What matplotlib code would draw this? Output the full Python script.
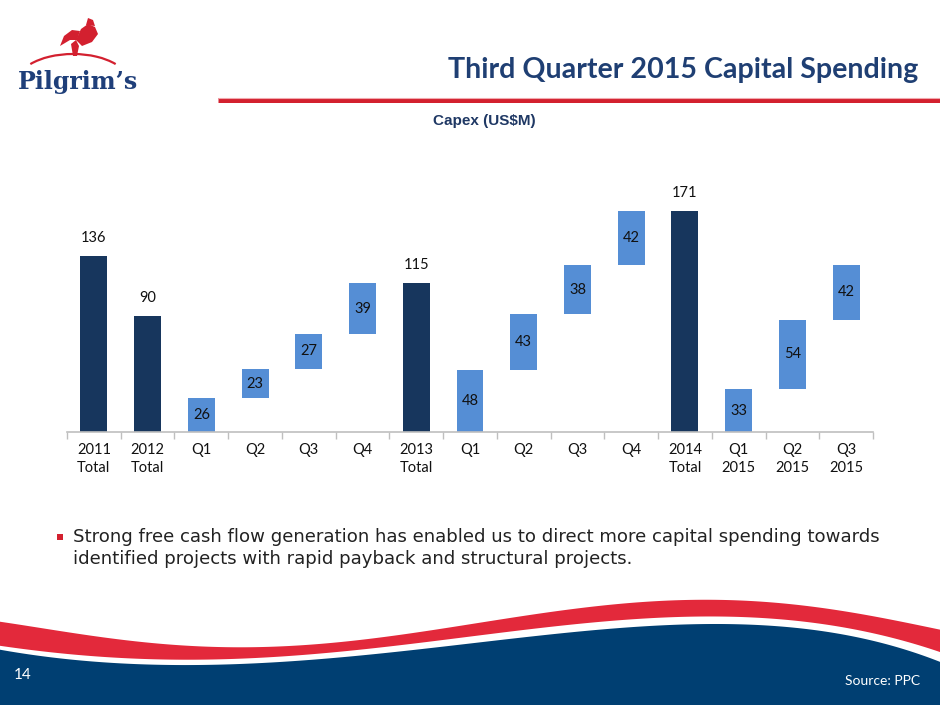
import numpy as np
import matplotlib
matplotlib.use("Agg")
import matplotlib.pyplot as plt
from matplotlib.patches import Polygon, Arc, Rectangle

# chart data
categories = ["2011\nTotal", "2012\nTotal", "Q1", "Q2", "Q3", "Q4", "2013\nTotal",
              "Q1", "Q2", "Q3", "Q4", "2014\nTotal", "Q1\n2015", "Q2\n2015", "Q3\n2015"]
values = [136, 90, 26, 23, 27, 39, 115, 48, 43, 38, 42, 171, 33, 54, 42]
is_total = [True, True, False, False, False, False, True,
            False, False, False, False, True, False, False, False]

title = "Third Quarter 2015 Capital Spending"
subtitle = "Capex (US$M)"
bullet_lines = ["Strong free cash flow generation has enabled us to direct more capital spending towards",
                "identified projects with rapid payback and structural projects."]

NAVY_BAR = "#17365d"
LIGHT_BAR = "#558ed5"
TITLE_BLUE = "#1f3f73"
RED = "#e3293b"
FOOT_NAVY = "#003f72"

W, H = 940, 705
fig = plt.figure(figsize=(W / 100, H / 100), dpi=100)

# background decoration layer in pixel coordinates
bg = fig.add_axes([0, 0, 1, 1], zorder=0)
bg.set_xlim(0, W)
bg.set_ylim(H, 0)
bg.axis("off")


def smooth(xs, ys, n=400):
    xs = np.asarray(xs, float) / W
    coef = np.polyfit(xs, ys, 5)
    xx = np.linspace(0, 1, n)
    return xx * W, np.polyval(coef, xx)


# footer waves (rough outline points)
red_top_x = [0, 100, 200, 300, 400, 470, 570, 670, 770, 870, 940]
red_top_y = [622, 636, 647, 646, 635, 623, 609, 602, 602, 615, 630]
red_bot_x = [0, 100, 200, 300, 470, 570, 670, 770, 870, 940]
red_bot_y = [646, 656, 660, 656, 635, 625, 619, 617, 633, 652]
navy_x = [0, 100, 200, 300, 470, 570, 670, 770, 870, 940]
navy_y = [650, 661, 666, 661, 642, 633, 626, 625, 640, 662]

xr, yr_top = smooth(red_top_x, red_top_y)
_, yr_bot = smooth(red_bot_x, red_bot_y)
xn, yn = smooth(navy_x, navy_y)
bg.fill_between(xr, yr_top, yr_bot, color=RED, lw=0)
bg.fill_between(xn, yn, H, color=FOOT_NAVY, lw=0)
bg.text(14, 675, "14", color="white", fontsize=11, family="Lato", va="center")
bg.text(920, 681, "Source: PPC", color="white", fontsize=10, family="Lato",
        ha="right", va="center")

# header rule
bg.plot([218, W], [100, 100], color="#d3202f", lw=3.6, solid_capstyle="butt")
bg.plot([218, W], [97.5, 97.5], color="#f2a8ae", lw=0.8, solid_capstyle="butt")

# logo (simplified)
bg.text(78, 89, "Pilgrim\u2019s", color="#1f3f7a", fontsize=17, family="DejaVu Serif",
        fontweight="bold", ha="center", va="baseline")
bg.add_patch(Arc((73, 84), 114, 60, theta1=205, theta2=335, color="#d3202f", lw=1.6))
bg.add_patch(Polygon([[73, 56], [77, 56], [79, 46], [76, 40], [71, 44]], color="#d3202f", lw=0))
bg.add_patch(Polygon([[60, 46], [64, 36], [72, 30], [80, 31], [77, 40], [70, 40]],
                     color="#d3202f", lw=0))
bg.add_patch(Polygon([[76, 40], [81, 29], [88, 24], [95, 27], [98, 34], [92, 42], [82, 46]],
                     color="#d3202f", lw=0))
bg.add_patch(Polygon([[86, 25], [88, 18], [93, 20], [95, 26]], color="#d3202f", lw=0))

# title and subtitle
fig.text(918 / W, 1 - 78 / H, title, color=TITLE_BLUE, fontsize=20.6, family="Lato",
         fontweight="bold", ha="right", va="baseline")
fig.text(484 / W, 1 - 121 / H, subtitle, color="#1f3864", fontsize=11,
         family="Liberation Sans", fontweight="bold", ha="center", va="center")

# bullet text
bg.add_patch(Rectangle((57, 534), 6, 6, color="#d3202f", lw=0))
for i, line in enumerate(bullet_lines):
    bg.text(73, 542 + 21.5 * i, line, color="#222222", fontsize=13.1,
            family="DejaVu Sans", va="baseline")

# waterfall chart
ax = fig.add_axes([67 / W, 1 - 432 / H, 806 / W, 252 / H], zorder=2)
ax.patch.set_alpha(0)
x = np.arange(len(values))
bottoms = []
running = 0
for v, tot in zip(values, is_total):
    if tot:
        bottoms.append(0)
        running = 0
    else:
        bottoms.append(running)
        running += v
colors = [NAVY_BAR if t else LIGHT_BAR for t in is_total]
ax.bar(x, values, bottom=bottoms, width=0.5, color=colors, edgecolor="none")

for xi, v, b, tot in zip(x, values, bottoms, is_total):
    if tot:
        ax.annotate(str(v), (xi, v), xytext=(0, 8), textcoords="offset points",
                    ha="center", va="bottom", fontsize=10.5, family="Lato", color="#111111")
    else:
        ax.text(xi, b + v / 2, str(v), ha="center", va="center", fontsize=10.5,
                family="Lato", color="#111111")

ax.set_xlim(-0.5, len(values) - 0.5)
ax.set_ylim(0, 195)
ax.set_yticks([])
ax.set_xticks(x)
ax.set_xticklabels(categories, fontsize=10.5, family="Lato", color="#111111",
                   linespacing=1.35)
ax.tick_params(axis="x", which="major", length=0, pad=8)
ax.set_xticks(np.arange(-0.5, len(values), 1), minor=True)
ax.tick_params(axis="x", which="minor", length=5, color="#bfbfbf", width=1)
for side in ["top", "right", "left"]:
    ax.spines[side].set_visible(False)
ax.spines["bottom"].set_color("#bfbfbf")
ax.spines["bottom"].set_linewidth(1.2)

fig.savefig("out.png", dpi=100)
